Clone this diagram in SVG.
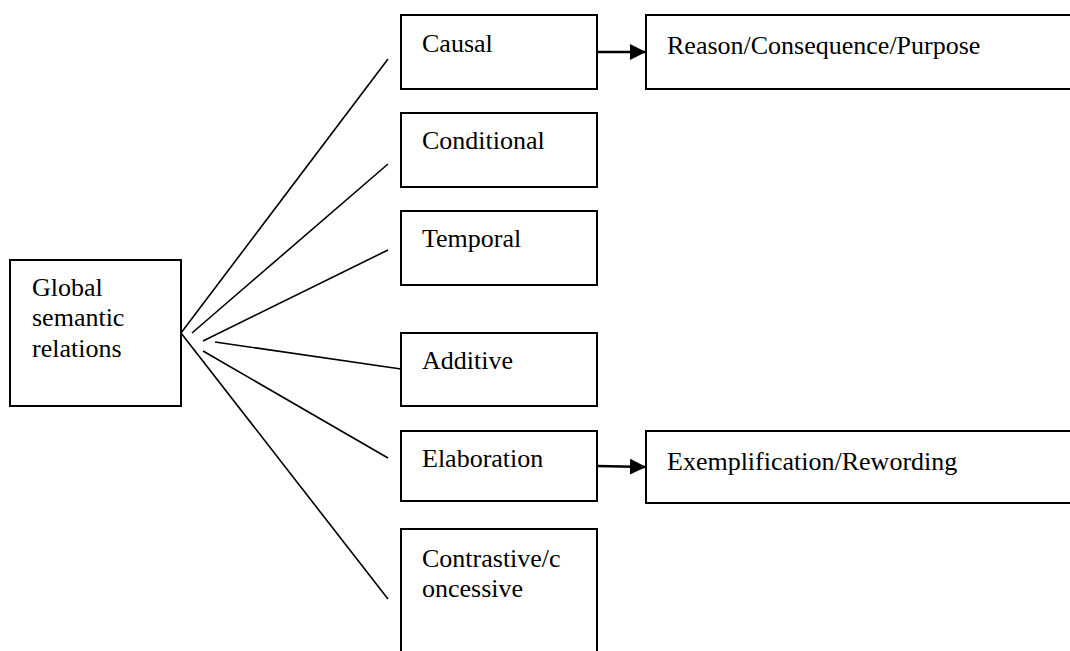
<svg xmlns="http://www.w3.org/2000/svg" width="1070" height="651" viewBox="0 0 1070 651">
<defs>
<style>
.box{fill:#fff;stroke:#000;stroke-width:2}
.t{font-family:"Liberation Serif","Times New Roman",serif;font-size:26px;fill:#000}
.ln{stroke:#000;stroke-width:1.6;fill:none}
.ar{stroke:#000;stroke-width:2.6;fill:none}
</style>
<marker id="ah" markerUnits="userSpaceOnUse" markerWidth="18" markerHeight="16" refX="16" refY="8" orient="auto">
<path d="M0,0 L16,8 L0,16 Z" fill="#000"/>
</marker>
</defs>
<rect width="1070" height="651" fill="#fff"/>
<g id="connectors">
<line class="ln" x1="181" y1="333" x2="388" y2="59"/>
<line class="ln" x1="192" y1="333" x2="388" y2="164"/>
<line class="ln" x1="203" y1="341" x2="388" y2="250"/>
<line class="ln" x1="215" y1="342" x2="401" y2="369"/>
<line class="ln" x1="203" y1="351" x2="388" y2="458"/>
<line class="ln" x1="181" y1="333" x2="388" y2="599"/>
<line class="ar" x1="597" y1="52" x2="646" y2="52" marker-end="url(#ah)"/>
<line class="ar" x1="597" y1="466" x2="646" y2="467" marker-end="url(#ah)"/>
</g>
<g id="global">
<rect class="box" x="10" y="260" width="171" height="146"/>
<text class="t" x="32" y="296">Global</text>
<text class="t" x="32" y="326">semantic</text>
<text class="t" x="32" y="357">relations</text>
</g>
<g id="causal">
<rect class="box" x="401" y="15" width="196" height="74"/>
<text class="t" x="422" y="52">Causal</text>
</g>
<g id="reason">
<rect class="box" x="646" y="15" width="440" height="74"/>
<text class="t" x="667" y="54">Reason/Consequence/Purpose</text>
</g>
<g id="conditional">
<rect class="box" x="401" y="113" width="196" height="74"/>
<text class="t" x="422" y="149">Conditional</text>
</g>
<g id="temporal">
<rect class="box" x="401" y="211" width="196" height="74"/>
<text class="t" x="422" y="247">Temporal</text>
</g>
<g id="additive">
<rect class="box" x="401" y="333" width="196" height="73"/>
<text class="t" x="422" y="369">Additive</text>
</g>
<g id="elaboration">
<rect class="box" x="401" y="431" width="196" height="70"/>
<text class="t" x="422" y="467">Elaboration</text>
</g>
<g id="exemplification">
<rect class="box" x="646" y="431" width="440" height="72"/>
<text class="t" x="667" y="470">Exemplification/Rewording</text>
</g>
<g id="contrastive">
<rect class="box" x="401" y="529" width="196" height="140"/>
<text class="t" x="422" y="567">Contrastive/c</text>
<text class="t" x="422" y="597">oncessive</text>
</g>
</svg>
